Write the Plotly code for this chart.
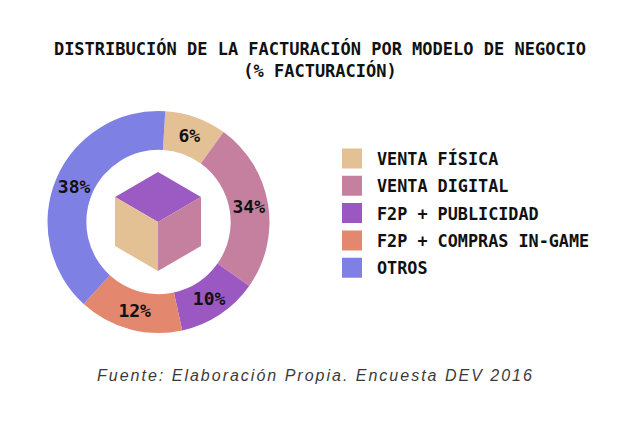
import plotly.graph_objects as go

# ---- data ----
categories = ["VENTA FÍSICA", "VENTA DIGITAL", "F2P + PUBLICIDAD", "F2P + COMPRAS IN-GAME", "OTROS"]
printed_pct = [6, 34, 10, 12, 38]            # labels printed on the slices
slice_share = [9.0, 24.8, 11.8, 15.2, 39.2]  # slice sizes as drawn in the picture
colors = ["#e4c095", "#c6809f", "#9c58c2", "#e3886f", "#7f80e4"]

title_text = "DISTRIBUCIÓN DE LA FACTURACIÓN POR MODELO DE NEGOCIO<br>(% FACTURACIÓN)"
source_text = "Fuente: Elaboración Propia. Encuesta DEV 2016"

W, H = 640, 424
BLOCK_FONT = "DejaVu Sans Mono"

fig = go.Figure()

fig.add_trace(go.Pie(
    labels=categories,
    values=slice_share,
    text=[f"{p}%" for p in printed_pct],
    textinfo="text",
    textposition="inside",
    insidetextorientation="horizontal",
    sort=False,
    direction="clockwise",
    rotation=3.5,
    hole=0.65,
    marker=dict(colors=colors, line=dict(width=0)),
    textfont=dict(family=BLOCK_FONT, size=18, color="#111111", weight="bold"),
    showlegend=False,
    hoverinfo="label+text",
    domain=dict(x=[47 / W, 270 / W], y=[1 - 333 / H, 1 - 111 / H]),
))

# legend entries
for name, col in zip(categories, colors):
    fig.add_trace(go.Scatter(
        x=[None], y=[None], mode="markers", name=name, legendgroup=name,
        marker=dict(symbol="square", size=16, color=col, line=dict(color=col, width=4)),
        showlegend=True,
    ))

# decorative cube in the donut hole
cx, cy, a, b, h = 158, 222, 43, 25, 49
top_face = f"M {cx},{cy} L {cx-a},{cy-b} L {cx},{cy-2*b} L {cx+a},{cy-b} Z"
left_face = f"M {cx},{cy} L {cx-a},{cy-b} L {cx-a},{cy-b+h} L {cx},{cy+h} Z"
right_face = f"M {cx},{cy} L {cx+a},{cy-b} L {cx+a},{cy-b+h} L {cx},{cy+h} Z"
for path, col in [(top_face, "#9b5bc3"), (left_face, "#e4c095"), (right_face, "#c6809f")]:
    fig.add_shape(type="path", path=path, xref="x", yref="y",
                  fillcolor=col, line=dict(width=0), layer="above")

fig.add_annotation(
    text=f"<span style='letter-spacing:2px'>{source_text}</span>",
    xref="paper", yref="paper", x=315 / W, y=1 - 375 / H, xanchor="center", yanchor="middle",
    showarrow=False,
    font=dict(family="Liberation Sans", size=16, color="#3a3a3a", style="italic"),
)

fig.update_layout(
    width=W, height=H,
    margin=dict(l=0, r=0, t=0, b=0),
    paper_bgcolor="white", plot_bgcolor="rgba(0,0,0,0)",
    title=dict(text=title_text, x=0.5, xanchor="center", y=1 - 55 / H, yanchor="middle",
               font=dict(family=BLOCK_FONT, size=17, color="#111111", weight="bold")),
    xaxis=dict(range=[0, W], visible=False, fixedrange=True),
    yaxis=dict(range=[H, 0], visible=False, fixedrange=True),
    legend=dict(x=327 / W, xanchor="left", y=1 - 141 / H, yanchor="top",
                font=dict(family=BLOCK_FONT, size=16.8, color="#111111", weight="bold"),
                tracegroupgap=2.5, itemwidth=40, bgcolor="rgba(0,0,0,0)"),
)

fig.write_html("out.html", config={"displayModeBar": False},
               post_script="document.body.style.margin='0';")
